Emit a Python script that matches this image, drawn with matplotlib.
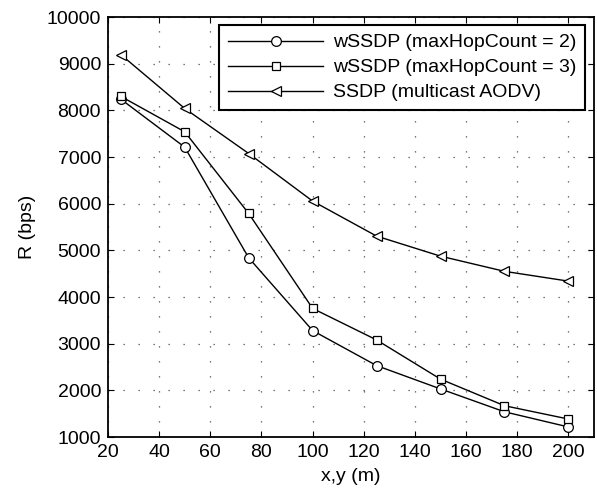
import matplotlib
matplotlib.use("Agg")
import matplotlib.pyplot as plt

x_vals = [25, 50, 75, 100, 125, 150, 175, 200]
hop2 = [8240, 7210, 4840, 3280, 2530, 2030, 1540, 1215]
hop3 = [8300, 7540, 5790, 3755, 3080, 2240, 1670, 1385]
ssdp = [9195, 8040, 7075, 6055, 5305, 4875, 4550, 4340]
labels = ["wSSDP (maxHopCount = 2)", "wSSDP (maxHopCount = 3)", "SSDP (multicast AODV)"]
x_ticks = [20, 40, 60, 80, 100, 120, 140, 160, 180, 200]
y_ticks = [1000, 2000, 3000, 4000, 5000, 6000, 7000, 8000, 9000, 10000]

plt.rcParams['font.family'] = ['Liberation Sans', 'DejaVu Sans']
FS = 14

fig = plt.figure(figsize=(5.97, 4.97), dpi=100)
ax = fig.add_axes([108/597, 1-437/497, (594-108)/597, (437-17)/497])

ax.plot(x_vals, hop2, color='black', lw=1.0, marker='o', ms=7, mfc='white', mec='black', mew=0.9, label=labels[0])
ax.plot(x_vals, hop3, color='black', lw=1.0, marker='s', ms=6, mfc='white', mec='black', mew=0.9, label=labels[1])
ax.plot(x_vals, ssdp, color='black', lw=1.0, marker='<', ms=7, mfc='white', mec='black', mew=0.9, label=labels[2])

ax.set_xlim(20, 210)
ax.set_ylim(1000, 10000)
ax.set_xticks(x_ticks)
ax.set_yticks(y_ticks)
ax.tick_params(direction='in', top=True, right=True, length=4, width=0.8, labelsize=FS, pad=5)
for s in ax.spines.values():
    s.set_linewidth(1.3)
ax.grid(True, color='0.3', linestyle=(0, (1, 11)), linewidth=0.9)
ax.set_axisbelow(True)

ax.set_xlabel('x,y (m)', fontsize=FS, labelpad=5)
ax.set_ylabel('R (bps)', fontsize=FS, labelpad=8)

leg = ax.legend(loc='upper right', bbox_to_anchor=(585/597, 1-25/497), bbox_transform=fig.transFigure,
                fontsize=FS, frameon=True, fancybox=False, borderaxespad=0, handlelength=4.9,
                labelspacing=0.38, borderpad=0.45, handletextpad=0.5)
leg.get_frame().set_edgecolor('black')
leg.get_frame().set_linewidth(1.5)
leg.get_frame().set_alpha(1)

fig.savefig('out.png', dpi=100)
